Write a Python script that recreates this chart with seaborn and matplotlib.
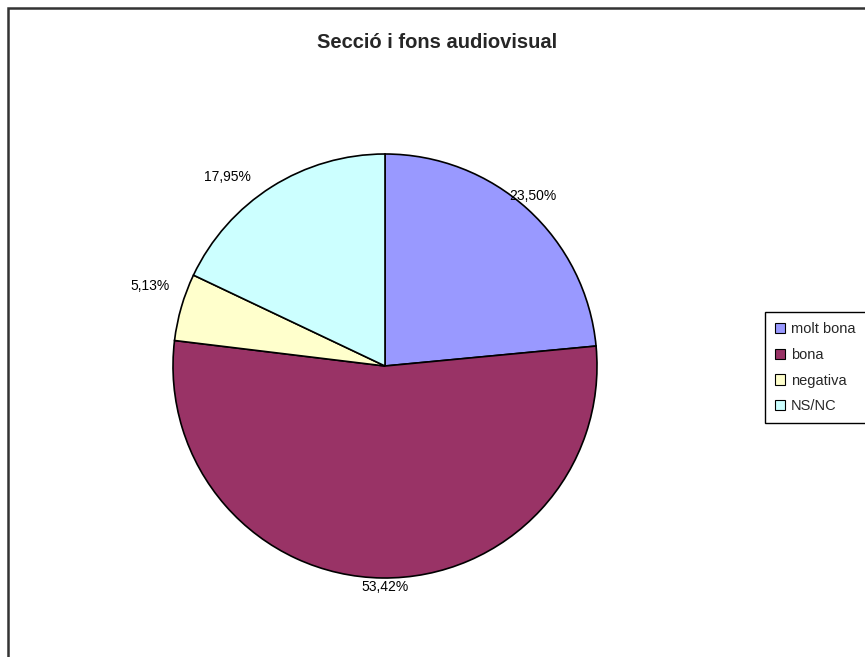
import numpy as np
import matplotlib
matplotlib.use("Agg")
import matplotlib.pyplot as plt
import matplotlib.patches as mpatches
import seaborn as sns

# Survey answers for the audiovisual section
categories = ["molt bona", "bona", "negativa", "NS/NC"]
shares = [23.50, 53.42, 5.13, 17.95]
colors = ["#9999FF", "#993366", "#FFFFCC", "#CCFFFF"]
title = "Secció i fons audiovisual"

# label nudges (pixels) from the wedge's outer mid-point
label_nudges = [(5, 13), (3, -9), (-31, 21), (-44, 10)]

sns.set_theme(style="white")
plt.rcParams["font.family"] = ["Liberation Sans", "DejaVu Sans"]

W, H = 865, 657
fig = plt.figure(figsize=(W / 100, H / 100), dpi=100)
fig.patch.set_facecolor("white")

cx, cy, r = 385, 366, 212
ax = fig.add_axes([(cx - r) / W, (H - cy - r) / H, 2 * r / W, 2 * r / H])
palette = sns.color_palette(colors)

wedges, _ = ax.pie(
    shares,
    colors=palette,
    startangle=90,
    counterclock=False,
    wedgeprops=dict(edgecolor="black", linewidth=1.2),
)
ax.set_xlim(-1, 1)
ax.set_ylim(-1, 1)
ax.set_aspect("equal")
ax.axis("off")

for w, val, (dx, dy) in zip(wedges, shares, label_nudges):
    mid = np.deg2rad((w.theta1 + w.theta2) / 2)
    ax.annotate(
        f"{val:.2f}".replace(".", ",") + "%",
        xy=(np.cos(mid), np.sin(mid)),
        xytext=(dx, dy),
        textcoords="offset pixels",
        ha="center", va="center",
        fontsize=10, color="black",
    )

fig.text(437 / W, (H - 43) / H, title,
         ha="center", va="center", fontsize=14.5, fontweight="bold")

handles = [mpatches.Patch(facecolor=c, edgecolor="black", linewidth=0.8) for c in palette]
leg = fig.legend(
    handles, categories,
    loc="upper left",
    bbox_to_anchor=(765 / W, (H - 312) / H),
    frameon=True, fancybox=False, framealpha=1,
    edgecolor="black", fontsize=10.5,
    handlelength=0.7, handleheight=0.7, handletextpad=0.4,
    labelspacing=0.8, borderpad=0.7, borderaxespad=0,
)
leg.get_frame().set_linewidth(1.0)

# chart-area border
fig.add_artist(mpatches.Rectangle(
    (8.0 / W, -0.05), 1.0, (H - 7.5) / H + 0.05,
    transform=fig.transFigure, fill=False, edgecolor="#333333", linewidth=1.8))

fig.savefig("out.png", dpi=100)
